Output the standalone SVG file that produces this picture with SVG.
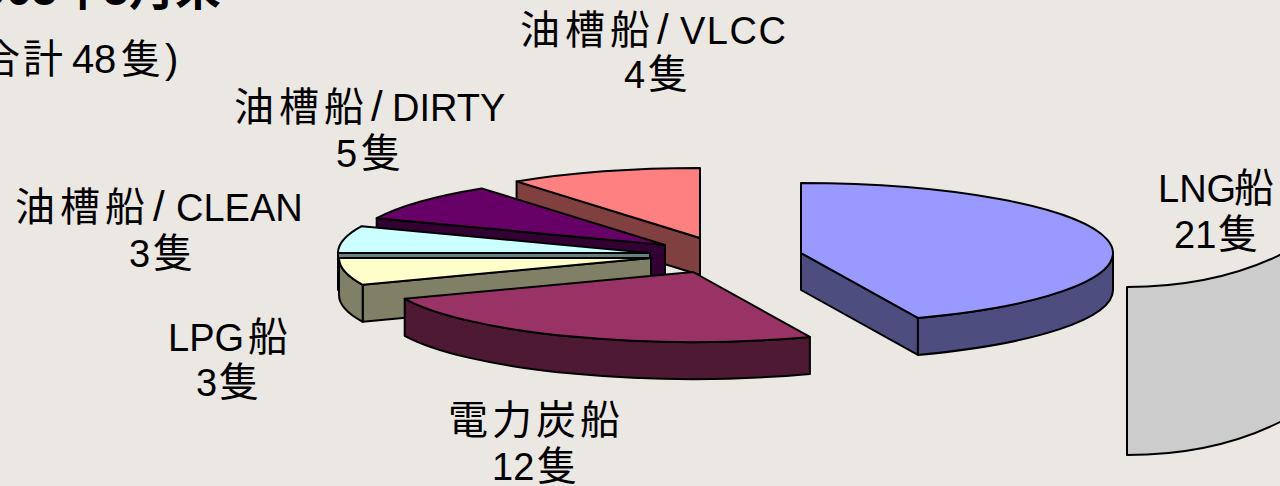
<svg xmlns="http://www.w3.org/2000/svg" width="1280" height="486" viewBox="0 0 1280 486">
<style>
.lbl{font-family:"Liberation Sans","Noto Sans CJK JP",sans-serif;font-size:38px;fill:#000}
.lbl .c{font-size:40px}
.lbl .s{font-size:42px}
.ttl{font-family:"Liberation Sans","Noto Sans CJK JP",sans-serif;fill:#000}
.e{stroke:#000;stroke-width:2;stroke-linejoin:round}
</style>
<rect width="1280" height="486" fill="#EBE7E3"/>
<g id="title">
<text class="ttl" x="-45" y="5" font-size="46" font-weight="bold">2005年5月末</text>
<text class="ttl" font-size="40" y="73" x="-30 -20 23 72 94 121 165">(合計48隻)</text>
</g>
<g id="panel">
<path class="e" fill="#CCCCCC" d="M1127,287 Q1215,287 1282,254 L1282,421 Q1215,455 1127,455 Z"/>
</g>
<g id="slice-vlcc">
<path class="e" fill="#804040" d="M700,238 L516.6,181.4 L516.6,218.4 L700,275 Z"/>
<path class="e" fill="#FF8080" d="M700,238 L516.6,181.4 A312,70 0 0 1 700,168 Z"/>
</g>
<g id="slice-dirty">
<path class="e" fill="#330033" d="M665,245 L376.7,218.2 L376.7,255.2 L665,282 Z"/>
<path class="e" fill="#660066" d="M665,245 L376.7,218.2 A312,70 0 0 1 481.6,188.4 Z"/>
</g>
<g id="slice-clean">
<path class="e" fill="#668080" d="M650,253 L338,253 L338,290 L650,290 Z"/>
<path class="e" fill="#CCFFFF" d="M650,253 L338,253 A312,70 0 0 1 361.7,226.2 Z"/>
</g>
<g id="slice-lpg">
<path class="e" fill="#808066" d="M651,258 L362.7,284.8 L362.7,321.8 L651,295 Z"/>
<path class="e" fill="#808066" d="M362.7,284.8 A312,70 0 0 1 339,258 L339,295 A312,70 0 0 0 362.7,321.8 Z"/>
<path class="e" fill="#FFFFCC" d="M651,258 L362.7,284.8 A312,70 0 0 1 339,258 Z"/>
</g>
<g id="slice-coal">
<path class="e" fill="#4D1933" d="M809.9,336.9 A312,70 0 0 1 404.7,298.8 L404.7,335.8 A312,70 0 0 0 809.9,373.9 Z"/>
<path class="e" fill="#993366" d="M693,272 L809.9,336.9 A312,70 0 0 1 404.7,298.8 Z"/>
</g>
<g id="slice-lng">
<path class="e" fill="#4D4D80" d="M801,253 L917.9,317.9 L917.9,354.9 L801,290 Z"/>
<path class="e" fill="#4D4D80" d="M1113,253 A312,70 0 0 1 917.9,317.9 L917.9,354.9 A312,70 0 0 0 1113,290 Z"/>
<path class="e" fill="#9999FF" d="M801,253 L801,183 A312,70 0 0 1 917.9,317.9 Z"/>
</g>
<g id="labels">
<text class="lbl" x="520" y="44"><tspan class="c" letter-spacing="5">油槽船</tspan><tspan class="s" x="657">/</tspan><tspan x="680" letter-spacing="1.5">VLCC</tspan></text>
<text class="lbl" x="624" y="88">4<tspan class="c" x="648">隻</tspan></text>
<text class="lbl" x="234" y="121"><tspan class="c" letter-spacing="5">油槽船</tspan><tspan class="s" x="371">/</tspan><tspan x="392">DIRTY</tspan></text>
<text class="lbl" x="336" y="167">5<tspan class="c" x="361">隻</tspan></text>
<text class="lbl" x="15" y="221"><tspan class="c" letter-spacing="5">油槽船</tspan><tspan class="s" x="153">/</tspan><tspan x="176">CLEAN</tspan></text>
<text class="lbl" x="129" y="267">3<tspan class="c" x="153">隻</tspan></text>
<text class="lbl" x="168" y="351">LPG<tspan class="c" x="248">船</tspan></text>
<text class="lbl" x="196" y="396">3<tspan class="c" x="219">隻</tspan></text>
<text class="lbl" x="448" y="434"><tspan class="c" letter-spacing="4">電力炭船</tspan></text>
<text class="lbl" x="492" y="480">12<tspan class="c" x="537">隻</tspan></text>
<text class="lbl" x="1158" y="202">LNG<tspan class="c" x="1234">船</tspan></text>
<text class="lbl" x="1174" y="248">21<tspan class="c" x="1218">隻</tspan></text>
</g>
</svg>
